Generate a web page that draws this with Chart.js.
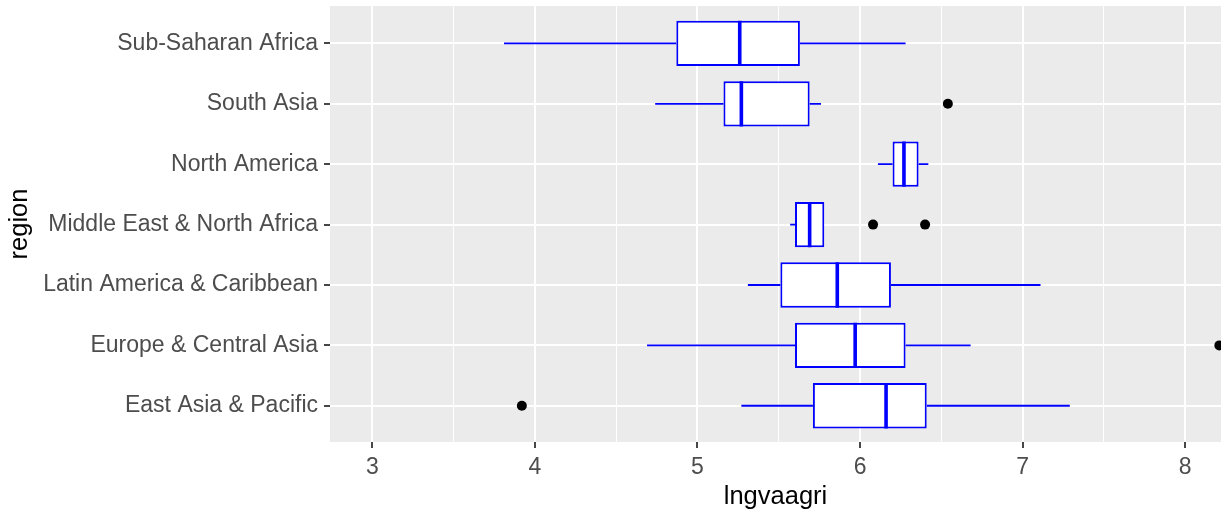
<!DOCTYPE html>
<html>
<head>
<meta charset="utf-8">
<script src="https://cdn.jsdelivr.net/npm/chart.js@4.4.1/dist/chart.umd.min.js"></script>
<style>
  html, body { margin: 0; padding: 0; background: #ffffff; }
  #wrap { width: 1221px; height: 516px; position: relative; }
</style>
</head>
<body>
<div id="wrap"><canvas id="c"></canvas></div>
<script>
// ---- data ----
const regions = [
  'East Asia & Pacific',
  'Europe & Central Asia',
  'Latin America & Caribbean',
  'Middle East & North Africa',
  'North America',
  'South Asia',
  'Sub-Saharan Africa'
];
const whiskerLow  = [5.27, 4.69, 5.31, 5.57, 6.11, 4.74, 3.81];
const q1          = [5.71, 5.60, 5.51, 5.60, 6.20, 5.16, 4.87];
const median      = [6.16, 5.97, 5.86, 5.69, 6.27, 5.27, 5.26];
const q3          = [6.41, 6.28, 6.19, 5.78, 6.36, 5.69, 5.63];
const whiskerHigh = [7.29, 6.68, 7.11, 5.78, 6.42, 5.76, 6.28];
const outlierRegion = ['East Asia & Pacific', 'Europe & Central Asia', 'Middle East & North Africa', 'Middle East & North Africa', 'South Asia'];
const outlierValue  = [3.92, 8.21, 6.08, 6.40, 6.54];
const xTickValues = [3, 3.5, 4, 4.5, 5, 5.5, 6, 6.5, 7, 7.5, 8];

// ---- style constants ----
const BLUE = '#0000FF';
const BOX_WIDTH = 0.75;            // ggplot default box width (fraction of category spacing)
const FONT = "'Liberation Sans', Arial, sans-serif";

const pos = regions.map((_, i) => i + 1);

const boxData = regions.map((_, i) => ({ x: [q1[i], q3[i]], y: pos[i] }));
const whiskerData = [];
regions.forEach((_, i) => {
  whiskerData.push({ x: whiskerLow[i], y: pos[i] }, { x: q1[i], y: pos[i] }, { x: null, y: null });
  whiskerData.push({ x: q3[i], y: pos[i] }, { x: whiskerHigh[i], y: pos[i] }, { x: null, y: null });
});
const medianData = [];
regions.forEach((_, i) => {
  medianData.push({ x: median[i], y: pos[i] - BOX_WIDTH / 2 }, { x: median[i], y: pos[i] + BOX_WIDTH / 2 }, { x: null, y: null });
});
const outlierData = outlierValue.map((v, k) => ({ x: v, y: regions.indexOf(outlierRegion[k]) + 1 }));

const panelBg = {
  id: 'panelBg',
  beforeDraw(chart) {
    const { ctx, chartArea: a } = chart;
    ctx.save();
    ctx.fillStyle = '#EBEBEB';
    ctx.fillRect(a.left, a.top, a.right - a.left, a.bottom - a.top);
    ctx.restore();
  }
};

const isMajor = v => Math.abs(v - Math.round(v)) < 1e-9;

new Chart(document.getElementById('c'), {
  type: 'bar',
  data: {
    datasets: [
      { type: 'line', label: 'median', data: medianData, borderColor: BLUE, borderWidth: 3.6,
        pointRadius: 0, spanGaps: false, fill: false, order: 0 },
      { type: 'scatter', label: 'outliers', data: outlierData, backgroundColor: '#000000',
        borderWidth: 0, pointRadius: 5, pointHoverRadius: 5, order: 1 },
      { type: 'bar', label: 'box', data: boxData, backgroundColor: '#FFFFFF', borderColor: BLUE,
        borderWidth: 2, borderSkipped: false, categoryPercentage: 1, barPercentage: BOX_WIDTH, order: 2 },
      { type: 'line', label: 'whiskers', data: whiskerData, borderColor: BLUE, borderWidth: 1.8,
        pointRadius: 0, spanGaps: false, fill: false, order: 3 }
    ]
  },
  options: {
    indexAxis: 'y',
    responsive: true,
    maintainAspectRatio: false,
    animation: false,
    devicePixelRatio: 1,
    layout: { autoPadding: false, padding: { top: 6, right: 0, bottom: 0, left: 0 } },
    plugins: { legend: { display: false }, tooltip: { enabled: false } },
    scales: {
      x: {
        type: 'linear',
        min: 2.74,
        max: 8.22,
        offset: false,
        afterBuildTicks: s => { s.ticks = xTickValues.map(v => ({ value: v })); },
        afterFit: s => { s.height = 74; s.paddingLeft = 0; s.paddingRight = 0; },
        border: { display: false },
        grid: {
          color: '#FFFFFF',
          lineWidth: c => (c.tick && isMajor(c.tick.value)) ? 2 : 1,
          tickColor: c => (c.tick && isMajor(c.tick.value)) ? '#333333' : 'rgba(0,0,0,0)',
          tickWidth: 1.8,
          tickLength: 6,
          drawTicks: true
        },
        ticks: {
          autoSkip: false,
          maxRotation: 0,
          padding: 6,
          color: '#4D4D4D',
          font: { family: FONT, size: 23 },
          callback: v => isMajor(v) ? String(Math.round(v)) : ''
        },
        title: {
          display: true, text: 'lngvaagri', color: '#000000',
          font: { family: FONT, size: 25.5 }, padding: { top: 0, bottom: 4 }
        }
      },
      y: {
        type: 'linear',
        min: 0.4,
        max: 7.62,
        offset: false,
        afterBuildTicks: s => { s.ticks = pos.map(v => ({ value: v })); },
        afterFit: s => { s.width = 330; s.paddingTop = 0; s.paddingBottom = 0; },
        border: { display: false },
        grid: {
          offset: false,
          color: '#FFFFFF',
          lineWidth: 2,
          tickColor: '#333333',
          tickWidth: 1.8,
          tickLength: 6,
          drawTicks: true
        },
        ticks: {
          autoSkip: false,
          padding: 6,
          color: '#4D4D4D',
          font: { family: FONT, size: 23 },
          callback: v => regions[Math.round(v) - 1] || ''
        },
        title: {
          display: true, text: 'region', color: '#000000',
          font: { family: FONT, size: 25.5 }, padding: { top: 5, bottom: 0 }
        }
      }
    }
  },
  plugins: [panelBg]
});
</script>
</body>
</html>
